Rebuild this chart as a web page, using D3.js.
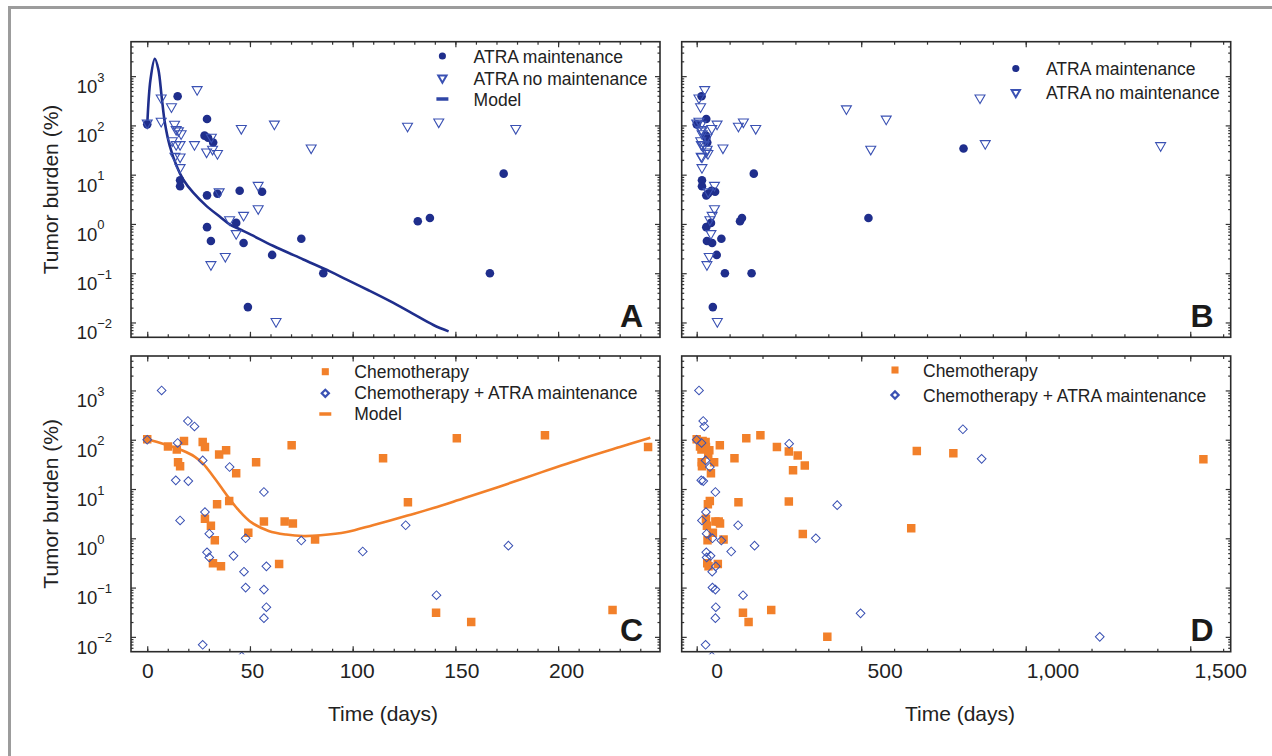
<!DOCTYPE html>
<html>
<head>
<meta charset="utf-8">
<script src="https://cdn.jsdelivr.net/npm/d3@7"></script>
<style>
  body { margin: 0; background: #fff; }
  svg { display: block; }
</style>
</head>
<body>
<svg id="chart" width="1272" height="756"></svg>
<script>
// [day, tumor burden %]
const atraMaint = [
  [0, 105], [14.8, 390], [29.1, 135], [27.9, 62], [29.6, 56], [32.1, 45],
  [16, 7.7], [16, 5.8], [29.1, 3.8], [34.2, 4.1], [45, 4.7], [55.9, 4.5],
  [29.1, 0.86], [31, 0.45], [43.3, 1.05], [46.9, 0.41], [60.8, 0.235], [75, 0.5],
  [85.7, 0.1], [49, 0.0205], [131.7, 1.13], [137.6, 1.32], [173.5, 10.5], [166.8, 0.1],
  [522, 1.32], [811, 34]
];
const atraNoMaint = [
  [0, 112], [6.8, 363], [6.8, 122], [11.8, 240], [24.3, 535], [13.3, 106],
  [14.1, 83], [15.2, 78], [16.5, 68], [12.2, 49], [14.1, 41], [16, 41], [23, 41],
  [13.5, 23.7], [16, 23], [16, 14], [28.9, 29], [31.8, 33], [31.2, 58], [34.2, 27],
  [45.8, 87], [61.9, 107], [79.8, 35], [126.7, 97], [141.9, 118], [179.4, 87],
  [54, 6.1], [54, 2.05], [35, 4.5], [40.1, 1.22], [46.9, 1.5], [43.3, 0.64],
  [38, 0.22], [31, 0.15], [62.7, 0.0105],
  [455, 218], [576, 135], [529, 33], [861, 363], [877, 43], [1410, 39]
];
const atraModel = [
  [0, 100], [1.6, 860], [3.7, 2250], [5.4, 1380], [7, 390], [8.6, 112], [11, 38],
  [14.3, 15], [17.5, 8], [22.4, 4.3], [28.9, 2.3], [35.4, 1.4], [40.3, 0.97],
  [45, 0.78], [50.7, 0.6], [61.2, 0.36], [76, 0.19], [88.7, 0.11], [97.1, 0.074],
  [107.7, 0.045], [118.2, 0.027], [128.8, 0.0155], [139.3, 0.0089], [146.7, 0.0066]
];
const chemo = [
  [0, 102], [10.1, 73], [14.4, 63], [17.9, 94], [27, 90], [28.1, 71], [38.4, 61],
  [35, 50], [15, 35], [16, 29], [53, 35], [70.3, 77], [43.3, 21], [34, 4.9],
  [39.9, 5.7], [28.1, 2.5], [31, 1.8], [56.8, 2.2], [66.9, 2.2], [70.9, 2.0],
  [49.2, 1.3], [32.9, 0.91], [81.7, 0.95], [32, 0.31], [35.9, 0.27], [64.2, 0.30],
  [114.8, 42], [126.9, 5.4], [150.7, 107], [193.6, 123], [243.8, 71],
  [140.6, 0.031], [157.7, 0.020], [226.5, 0.035],
  [280, 58], [307, 48], [328.5, 30], [292.8, 24], [280, 5.6], [322.5, 1.22],
  [397, 0.01], [652, 1.6], [669, 59], [780, 53], [1540, 40]
];
const chemoAtra = [
  [0, 100], [7, 1000], [19.8, 240], [23, 186], [14.8, 86], [27, 38], [40.1, 28],
  [13.9, 15], [20, 14.5], [56.8, 8.7], [16, 2.3], [28.1, 3.4], [30.2, 1.24],
  [47.9, 1.0], [29.1, 0.52], [30.2, 0.41], [42, 0.44], [47.1, 0.21], [47.9, 0.1],
  [58, 0.27], [56.8, 0.091], [58, 0.04], [56.8, 0.024], [27, 0.0069], [46, 0.004],
  [75, 0.9], [104.9, 0.54], [125.8, 1.84], [140.8, 0.07], [175.8, 0.71],
  [281, 83], [362, 1.0], [427, 4.7], [498, 0.03], [809, 163], [866, 41], [1225, 0.01]
];
const chemoModel = [
  [0, 102], [8.4, 81], [16.9, 61], [23.2, 45], [27.4, 32], [31.7, 19], [35.9, 11],
  [40.1, 6.3], [44.3, 3.8], [50.7, 2.1], [59.1, 1.41], [67.6, 1.19], [76, 1.11],
  [84.4, 1.15], [97.1, 1.34], [109.8, 1.84], [126.7, 2.9], [139.3, 4.1],
  [154.1, 6.5], [171, 11], [192.1, 22], [213.2, 43], [230.1, 71], [244.9, 110]
];

const yTicks = [1e-2, 1e-1, 1e0, 1e1, 1e2, 1e3];
const shortTicks = [0, 50, 100, 150, 200];
const longTicks = [0, 500, 1000, 1500];

const NAVY = "#1f2e8c", BLUE = "#3a51b3", ORANGE = "#f2802a", INK = "#222";
const FONT = "'Liberation Sans', Arial, Helvetica, sans-serif";

const yDomain = [0.005, 5000];
const yMinor = [];
for (let k = -3; k <= 3; k++) {
  for (let m = 2; m <= 9; m++) {
    const v = m * Math.pow(10, k);
    if (v > yDomain[0] && v < yDomain[1]) yMinor.push(v);
  }
}

const markers = {
  circle:   { sym: d3.symbolCircle,   size: 58, lsize: 40, rot: 0,   fill: NAVY,   stroke: "none", sw: 0,   lsw: 0 },
  triangle: { sym: d3.symbolTriangle, size: 43, lsize: 30, rot: 180, fill: "none", stroke: BLUE,   sw: 1.1, lsw: 2 },
  square:   { sym: d3.symbolSquare,   size: 72, lsize: 50, rot: 0,   fill: ORANGE, stroke: "none", sw: 0,   lsw: 0 },
  diamond:  { sym: d3.symbolSquare,   size: 38, lsize: 26, rot: 45,  fill: "none", stroke: BLUE,   sw: 1,   lsw: 2.2 }
};

const svg = d3.select("#chart").style("font-family", FONT);
svg.append("rect").attr("width", 1272).attr("height", 756).attr("fill", "#fff");

// grey figure border (top and left)
svg.append("path")
  .attr("d", "M9.5,756V7.5H1272")
  .attr("fill", "none")
  .attr("stroke", "#9c9c9c")
  .attr("stroke-width", 3);

function drawMarker(sel, type, legend) {
  const m = markers[type];
  sel.append("path")
    .attr("d", d3.symbol(m.sym, legend ? m.lsize : m.size)())
    .attr("transform", d => `translate(${d.x},${d.y}) rotate(${m.rot})`)
    .attr("fill", m.fill)
    .attr("stroke", m.stroke)
    .attr("stroke-width", legend ? m.lsw : m.sw);
}

function styleTicks(g) {
  g.select(".domain").remove();
  g.selectAll(".tick line").attr("stroke", "#333").attr("stroke-width", 1.2);
}

function panel(p) {
  const w = p.x1 - p.x0, h = p.y1 - p.y0;
  const g = svg.append("g").attr("transform", `translate(${p.x0},${p.y0})`);
  const x = d3.scaleLinear().domain(p.xDomain).range([0, w]);
  const y = d3.scaleLog().domain(yDomain).range([h, 0]);

  const clipId = "clip" + p.letter;
  g.append("clipPath").attr("id", clipId)
    .append("rect").attr("width", w).attr("height", h + 2.5);
  const marks = g.append("g").attr("clip-path", `url(#${clipId})`);

  if (p.model) {
    marks.append("path")
      .datum(p.model.data)
      .attr("d", d3.line().x(d => x(d[0])).y(d => y(d[1])).curve(d3.curveCatmullRom.alpha(0.5)))
      .attr("fill", "none")
      .attr("stroke", p.model.color)
      .attr("stroke-width", 2.6);
  }

  p.series.forEach(s => {
    const pts = s.data
      .filter(d => d[0] <= p.xDomain[1])
      .map(d => ({ x: x(d[0]), y: y(d[1]) }));
    marks.append("g").selectAll("g").data(pts).join("g")
      .call(sel => drawMarker(sel, s.type, false));
  });

  // ticks on all four sides, pointing inward
  const minorX = d3.range(0, p.xDomain[1], p.minorStep);
  const majorX = d3.range(0, p.xDomain[1], p.majorStep);
  g.append("g").attr("transform", `translate(0,${h})`)
    .call(d3.axisBottom(x).tickValues(minorX).tickSizeInner(-3).tickSizeOuter(0).tickFormat(""))
    .call(styleTicks);
  const bottom = g.append("g").attr("transform", `translate(0,${h})`)
    .call(d3.axisBottom(x).tickValues(majorX).tickSizeInner(-5.5).tickSizeOuter(0)
      .tickFormat(p.xLabels ? d3.format(",") : ""))
    .call(styleTicks);
  g.append("g")
    .call(d3.axisTop(x).tickValues(minorX).tickSizeInner(-3).tickSizeOuter(0).tickFormat(""))
    .call(styleTicks);
  g.append("g")
    .call(d3.axisTop(x).tickValues(majorX).tickSizeInner(-5.5).tickSizeOuter(0).tickFormat(""))
    .call(styleTicks);

  if (p.xLabels) {
    bottom.selectAll(".tick")
      .filter(d => p.xLabels.includes(d))
      .select("text")
      .attr("x", d => p.labelShift(d))
      .attr("y", 26.6)
      .attr("dy", null)
      .attr("fill", INK)
      .style("font-family", FONT)
      .style("font-size", "21px");
  }

  g.append("g")
    .call(d3.axisLeft(y).tickValues(yMinor).tickSizeInner(-2.5).tickSizeOuter(0).tickFormat(""))
    .call(styleTicks);
  g.append("g").attr("transform", `translate(${w},0)`)
    .call(d3.axisRight(y).tickValues(yMinor).tickSizeInner(-2.5).tickSizeOuter(0).tickFormat(""))
    .call(styleTicks);
  g.append("g").attr("transform", `translate(${w},0)`)
    .call(d3.axisRight(y).tickValues(yTicks).tickSizeInner(-5).tickSizeOuter(0).tickFormat(""))
    .call(styleTicks);
  const left = g.append("g")
    .call(d3.axisLeft(y).tickValues(yTicks).tickSizeInner(-5).tickSizeOuter(0))
    .call(styleTicks);

  if (p.yLabels) {
    left.selectAll(".tick text")
      .text(null)
      .attr("x", -54.3)
      .attr("y", 16.4)
      .attr("dy", null)
      .attr("text-anchor", "start")
      .attr("fill", INK)
      .style("font-family", FONT)
      .style("font-size", "18.5px")
      .each(function (d) {
        const e = Math.round(Math.log10(d));
        const t = d3.select(this);
        t.append("tspan").text("10");
        t.append("tspan")
          .attr("dy", -11.4)
          .style("font-size", "13px")
          .text(e < 0 ? "\u2212" + Math.abs(e) : String(e));
      });
  } else {
    left.selectAll(".tick text").remove();
  }

  g.append("rect")
    .attr("width", w).attr("height", h)
    .attr("fill", "none")
    .attr("stroke", "#2b2b2b")
    .attr("stroke-width", 1.6);

  g.append("text")
    .attr("x", w - 17).attr("y", h - 10.5)
    .attr("text-anchor", "end")
    .attr("fill", "#1a1a1a")
    .style("font-size", "32px")
    .style("font-weight", "bold")
    .text(p.letter);

  // legend
  const lg = svg.append("g");
  p.legend.items.forEach((it, i) => {
    const ry = p.legend.rows[i];
    if (it.type === "line") {
      lg.append("line")
        .attr("x1", p.legend.mx - 6).attr("x2", p.legend.mx + 6)
        .attr("y1", ry).attr("y2", ry)
        .attr("stroke", it.color).attr("stroke-width", 3.5);
    } else {
      lg.append("g").selectAll("g").data([{ x: p.legend.mx, y: ry }]).join("g")
        .call(sel => drawMarker(sel, it.type, true));
    }
    lg.append("text")
      .attr("x", p.legend.tx).attr("y", ry + p.legend.dy)
      .attr("fill", INK)
      .style("font-size", "17.5px")
      .text(it.label);
  });

  if (p.yTitle) {
    svg.append("text")
      .attr("transform", `translate(58,${(p.y0 + p.y1) / 2}) rotate(-90)`)
      .attr("text-anchor", "middle")
      .attr("fill", INK)
      .style("font-size", "21px")
      .text("Tumor burden (%)");
  }
  if (p.xTitle) {
    svg.append("text")
      .attr("x", p.xTitle).attr("y", 721)
      .attr("text-anchor", "middle")
      .attr("fill", INK)
      .style("font-size", "21px")
      .text("Time (days)");
  }
}

const shortDomain = [-7.9, 249.6];
const longDomain = [-45.6, 1623];
const atraSeries = [
  { type: "circle", data: atraMaint },
  { type: "triangle", data: atraNoMaint }
];
const chemoSeries = [
  { type: "square", data: chemo },
  { type: "diamond", data: chemoAtra }
];

panel({
  letter: "A", x0: 131, x1: 660, y0: 41.7, y1: 337.3,
  xDomain: shortDomain, majorStep: 50, minorStep: 10,
  yLabels: true, yTitle: true,
  model: { data: atraModel, color: NAVY },
  series: atraSeries,
  legend: {
    mx: 442.4, tx: 473.6, dy: 7, rows: [56, 78, 99],
    items: [
      { type: "circle", label: "ATRA maintenance" },
      { type: "triangle", label: "ATRA no maintenance" },
      { type: "line", color: "#2f46a6", label: "Model" }
    ]
  }
});

panel({
  letter: "B", x0: 681.7, x1: 1230.7, y0: 41.7, y1: 337.3,
  xDomain: longDomain, majorStep: 500, minorStep: 100,
  series: atraSeries,
  legend: {
    mx: 1015.8, tx: 1046, dy: 6.5, rows: [68.5, 92.5],
    items: [
      { type: "circle", label: "ATRA maintenance" },
      { type: "triangle", label: "ATRA no maintenance" }
    ]
  }
});

panel({
  letter: "C", x0: 131, x1: 660, y0: 356, y1: 651.7,
  xDomain: shortDomain, majorStep: 50, minorStep: 10,
  xLabels: shortTicks, labelShift: d => d * 0.04,
  yLabels: true, yTitle: true, xTitle: 383,
  model: { data: chemoModel, color: ORANGE },
  series: chemoSeries,
  legend: {
    mx: 325.3, tx: 354.3, dy: 5.8, rows: [371.7, 393.3, 414],
    items: [
      { type: "square", label: "Chemotherapy" },
      { type: "diamond", label: "Chemotherapy + ATRA maintenance" },
      { type: "line", color: ORANGE, label: "Model" }
    ]
  }
});

panel({
  letter: "D", x0: 681.7, x1: 1230.7, y0: 356, y1: 651.7,
  xDomain: longDomain, majorStep: 500, minorStep: 100,
  xLabels: longTicks, labelShift: d => 20 + d * 0.0067,
  xTitle: 960,
  series: chemoSeries,
  legend: {
    mx: 895, tx: 923, dy: 6.5, rows: [370, 395],
    items: [
      { type: "square", label: "Chemotherapy" },
      { type: "diamond", label: "Chemotherapy + ATRA maintenance" }
    ]
  }
});
</script>
</body>
</html>
